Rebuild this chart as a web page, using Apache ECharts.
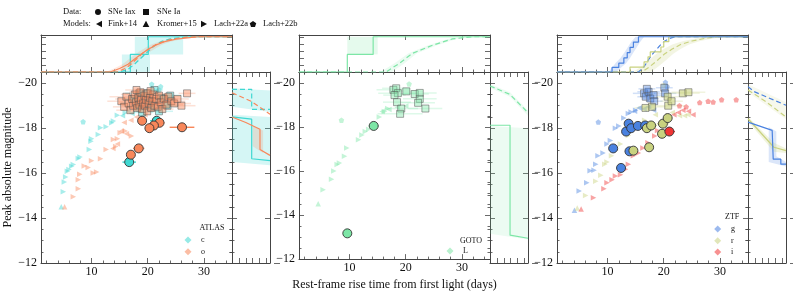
<!DOCTYPE html>
<html><head><meta charset="utf-8">
<script src="https://cdn.jsdelivr.net/npm/echarts@6/dist/echarts.min.js"></script>
<style>html,body{margin:0;padding:0;background:#fff}#c{width:793px;height:296px}</style>
</head><body><div id="c"></div>
<script>
// ---------------- DATA ----------------
const xMajor = [10, 20, 30];
const xMinor = [2, 4, 6, 8, 12, 14, 16, 18, 22, 24, 26, 28, 32, 34];
const yMajor = [-20, -18, -16, -14, -12];
const yMinor = [-19.5, -19, -18.5, -17.5, -17, -16.5, -15.5, -15, -14.5, -13.5, -13, -12.5];
const fracTicks = [0.2, 0.4, 0.6, 0.8, 1.0];

// ATLAS  [rise time, peak mag, x error]
const atlasIaxC = [[21.6,-18.33,1.2],[16.7,-16.49,1.2]];
const atlasIaxO = [[19.0,-18.33,0.6],[22.1,-18.24,0.9],[21.1,-18.12,1.5],[20.3,-18.0,0.8],[26.1,-18.04,2.2],[18.4,-17.1,1.0],[17.0,-16.82,0.5]];
const atlasIaC = [[17.5,-19.3,2],[18.5,-19.55,2.5],[19.0,-18.7,2],[19.8,-19.55,2],[20.5,-18.95,2.5],[21.2,-19.7,1.5],[22.0,-18.75,2.5],[22.4,-19.35,2],[23.5,-19.0,2],[24.0,-19.45,2],[20.0,-19.2,2],[18.2,-19.0,2]];
const atlasIaO = [[15.3,-19.2,2.5],[15.8,-18.95,2],[16.2,-19.4,3],[16.6,-19.1,2],[16.9,-18.8,2.5],[17.2,-19.3,3],[17.4,-19.0,2],[17.7,-19.5,2.5],[17.9,-19.15,3],[18.1,-18.9,2],[18.3,-19.35,2.5],[18.5,-19.05,3.5],[18.7,-19.6,2],[18.8,-19.25,2.5],[19.0,-18.85,2],[19.2,-19.1,3],[19.4,-19.45,2.5],[19.5,-19.0,2],[19.7,-19.25,3],[19.9,-18.75,2],[20.0,-19.55,2.5],[20.2,-19.1,3],[20.4,-19.35,2],[20.6,-18.9,2.5],[20.8,-19.2,3],[21.0,-19.5,2],[21.2,-19.0,2.5],[21.5,-19.3,3],[21.8,-18.95,2],[22.0,-19.45,2.5],[22.3,-19.15,3],[22.6,-18.85,2],[22.9,-19.3,2.5],[23.3,-19.05,3],[23.7,-19.4,2],[24.2,-19.2,2.5],[24.7,-19.1,3],[25.3,-19.3,2],[26.0,-19.0,2.5],[27.0,-19.55,1.5],[18.0,-19.7,2],[20.5,-19.65,2]];
const atlasFinkC = [[15.5,-18.55],[16.5,-18.75],[17.2,-18.65],[18.0,-18.8],[19.5,-18.9],[20.8,-18.9]];
const atlasFinkO = [[13.8,-17.1],[14.6,-17.3],[15.3,-17.87],[16.2,-17.75],[15.8,-18.25],[17.0,-18.35],[18.0,-18.5],[19.5,-18.6]];
const atlasKromerC = [[4.6,-14.5]];
const atlasKromerO = [[5.2,-14.5]];
const atlasLachAC = [[4.97,-15.17],[5.15,-15.61],[5.39,-15.83],[5.69,-16.08],[5.98,-16.16],[6.46,-16.31],[6.75,-16.38],[7.64,-16.65],[7.94,-16.72],[9.6,-17.05],[9.9,-17.42],[10.0,-17.53],[11.2,-17.72],[11.6,-18.02],[12.6,-18.06],[13.6,-18.24],[13.9,-18.32],[14.6,-18.57],[16.0,-18.69]];
const atlasLachAO = [[6.75,-14.95],[7.64,-15.3],[7.64,-15.7],[7.9,-15.95],[8.7,-16.32],[9.4,-16.25],[10.0,-16.55],[10.3,-16.0],[10.9,-16.05],[11.6,-16.64],[12.6,-17.05],[13.9,-17.5],[14.6,-17.53],[15.1,-17.8],[14.3,-17.19],[17.1,-17.65],[16.0,-17.87]];
const atlasLachBC = [[8.5,-18.29],[20.7,-19.96],[22.3,-19.85],[22.0,-19.7]];
const atlasLachBO = [[19.5,-19.5],[21.0,-19.3],[23.0,-19.45]];
// ATLAS marginals: top [rise time, fraction], right [fraction, mag]
const atlasTopIaxC = [[1,0],[16.9,0],[16.9,0.5],[20.1,0.5],[20.1,1],[35,1]];
const atlasTopIaC = [[1,0],[15,0],[16.5,0.08],[17.5,0.2],[18.5,0.35],[19.5,0.5],[20.5,0.65],[21.5,0.78],[22.5,0.87],[24,0.94],[26,0.98],[28,1],[35,1]];
const atlasTopIaxO = [[1,0],[13.3,0],[15,0.1],[16.5,0.22],[17.5,0.35],[18.5,0.47],[19.5,0.58],[20.5,0.68],[21.5,0.77],[23,0.86],[25,0.93],[27,0.97],[29,1],[35,1]];
const atlasTopIaO = [[1,0],[14.5,0],[16,0.1],[17,0.22],[18,0.37],[19,0.52],[20,0.64],[21,0.74],[22,0.82],[23.5,0.9],[25,0.95],[27,0.99],[29,1],[35,1]];
const atlasTopBandC = [[15.4,0],[15.4,0.5],[17.7,0.5],[17.7,1],[26.3,1],[26.3,0.5],[20.4,0.5],[20.4,0]];
const atlasTopBandO = [[12.5,0],[14,0.1],[15.5,0.22],[16.5,0.35],[17.5,0.47],[18.5,0.58],[19.5,0.68],[20.5,0.77],[22,0.86],[24,0.93],[26,0.97],[28,1],[30,1],[28,0.97],[26,0.93],[24,0.86],[22.5,0.77],[21.5,0.68],[20.5,0.58],[19.5,0.47],[18.5,0.35],[17.5,0.22],[16,0.1],[14.5,0]];
const atlasRightIaC = [[0,-19.73],[0.57,-19.73],[0.57,-18.84],[1.1,-18.84]];
const atlasRightIaO = [[0,-19.58],[0.55,-19.2],[1.1,-18.62]];
const atlasRightIaxC = [[0,-18.5],[0.57,-18.4],[0.57,-16.64],[1.1,-16.56]];
const atlasRightIaxO = [[0,-18.5],[0.4,-18.25],[0.81,-17.95],[0.81,-17.05],[1.1,-16.79]];
const atlasRightBandC1 = [[0,-19.78],[1.1,-19.68],[1.1,-18.72],[0,-18.95]];
const atlasRightBandC2 = [[0,-18.6],[1.1,-18.5],[1.1,-16.35],[0,-16.5]];
const atlasRightBandO = [[0.6,-18.1],[0.9,-17.9],[0.9,-16.9],[0.6,-17.2]];

// GOTO
const gotoIax = [[14.3,-18.05,0.9],[9.6,-13.17,0.3]];
const gotoIa = [[17.8,-19.69,3.0],[18.3,-19.76,2.5],[18.6,-19.54,3.5],[18.0,-19.45,2.0],[18.45,-19.13,2.5],[19.2,-18.84,3.0],[19.0,-18.6,4.0],[20.1,-19.62,3.0],[21.6,-19.5,2.5],[22.5,-19.55,3.0],[22.5,-19.28,3.0],[22.2,-19.1,3.0],[23.5,-18.84,3.0]];
const gotoFink = [[15.8,-18.7],[17.0,-18.8],[18.5,-18.9],[20.0,-18.95]];
const gotoKromer = [[4.42,-14.51]];
const gotoLachA = [[5.3,-15.15],[6.8,-15.63],[7.2,-16.0],[7.8,-16.3],[8.2,-16.37],[9.1,-16.67],[9.5,-17.05],[11.6,-17.42],[12.2,-17.64],[12.8,-17.8],[13.4,-17.9],[15.3,-18.46],[16.2,-18.7],[16.8,-18.84]];
const gotoLachB = [[8.55,-18.31],[20.6,-19.96]];
const gotoTopIax = [[1,0],[9.6,0],[9.6,0.5],[14.2,0.5],[14.2,1],[35,1]];
const gotoTopIa = [[1,0],[16.5,0],[18.9,0.25],[21.2,0.53],[24.8,0.76],[28.3,0.94],[31.8,1],[35,1]];
const gotoTopBand = [[9.6,0.5],[9.6,1],[15.0,1],[15.0,0.5]];
const gotoTopBand2 = [[15.5,0],[18,0.25],[20.5,0.53],[24,0.76],[27.5,0.94],[31,1],[33,1],[29,0.94],[25.6,0.76],[22,0.53],[19.8,0.25],[17.5,0]];
const gotoRightIax = [[0,-18.13],[0.58,-18.13],[0.58,-13.24],[1.1,-13.1]];
const gotoRightIa = [[0,-19.88],[0.58,-19.5],[1.1,-18.69]];
const gotoRightBand = [[0,-18.1],[1.1,-18.0],[1.1,-13.05],[0,-13.3]];
const gotoRightBand2 = [[0,-19.95],[0.58,-19.6],[1.1,-18.8],[1.1,-18.55],[0.58,-19.4],[0,-19.8]];

// ZTF
const ztfIaxG = [[11.0,-17.1,0.3],[12.4,-16.23,0.8],[13.3,-17.85,0.6],[13.75,-18.2,0.5],[13.9,-16.97,0.4],[14.2,-18.0,0.5],[15.4,-18.1,1.5],[16.7,-18.12,1.0]];
const ztfIaxR = [[14.6,-17.0,0.4],[17.0,-18.0,1.5],[17.75,-18.12,1.0],[17.4,-17.15,0.6],[19.85,-18.2,1.0],[19.7,-17.75,0.8],[20.7,-18.45,0.8]];
const ztfIaxI = [[21.0,-17.85,1.0]];
const ztfIaG = [[16.5,-19.55,2.0],[16.8,-19.4,1.5],[17.3,-19.62,2.0],[17.6,-19.32,1.5],[18.2,-19.47,2.0],[18.3,-19.2,1.5],[20.1,-19.8,1.5],[20.25,-19.55,2.0],[17.0,-19.75,1.5]];
const ztfIaR = [[17.9,-18.95,2.5],[20.7,-19.4,2.0],[20.8,-19.0,3.0],[21.4,-19.2,2.0],[23.4,-19.55,3.0],[24.4,-19.6,3.0],[16.75,-18.9,2.0]];
const ztfFinkG = [[14.8,-18.75],[15.6,-18.9],[16.5,-18.85],[17.3,-18.95],[18.2,-18.8]];
const ztfFinkR = [[18.5,-18.6],[21.5,-18.7],[22.8,-18.55],[23.7,-18.55],[24.3,-18.6]];
const ztfFinkI = [[21.8,-18.6],[22.6,-18.7],[23.4,-18.8],[24.4,-18.75],[25.2,-18.6]];
const ztfKromerG = [[4.1,-14.35]];
const ztfKromerR = [[4.6,-14.45]];
const ztfKromerI = [[5.3,-14.4]];
const ztfLachAG = [[4.95,-15.2],[6.3,-15.57],[6.9,-16.1],[7.6,-16.13],[7.9,-16.4],[8.3,-16.77],[9.2,-16.9],[9.9,-17.3],[10.5,-17.45],[11.4,-18.0],[12.0,-18.1],[12.9,-18.45],[13.7,-18.65],[14.2,-18.72],[15.0,-18.8]];
const ztfLachAR = [[6.1,-15.0],[7.9,-15.64],[8.8,-15.9],[9.5,-16.4],[9.9,-16.5],[10.7,-16.77],[11.5,-17.03],[12.3,-17.3],[13.7,-17.67],[14.9,-17.98],[15.8,-18.2],[16.6,-18.35]];
const ztfLachAI = [[7.5,-14.9],[9.35,-15.3],[9.9,-15.57],[10.8,-15.7],[11.4,-15.87],[12.3,-15.93],[13.2,-16.17],[13.7,-16.4],[14.6,-16.77],[15.5,-16.9],[16.3,-17.12],[17.2,-17.35],[18.4,-17.65],[18.9,-17.9]];
const ztfLachBG = [[8.35,-18.27],[20.3,-20.04],[20.6,-19.85]];
const ztfLachBR = [[20.0,-19.9],[21.0,-19.3]];
const ztfLachBI = [[26.4,-19.14],[27.9,-19.2],[28.8,-19.16],[30.3,-19.27],[32.9,-19.27],[22.8,-19.0],[24.0,-18.95]];
const ztfTopIaxG = [[1,0],[10.8,0],[10.8,0.13],[12.0,0.13],[12.0,0.25],[12.9,0.25],[12.9,0.4],[13.5,0.4],[13.5,0.55],[14.0,0.55],[14.0,0.7],[14.6,0.7],[14.6,0.85],[15.5,0.85],[15.5,1],[35,1]];
const ztfTopIaxR = [[1,0],[14.0,0],[14.0,0.14],[16.5,0.14],[16.5,0.29],[17.2,0.29],[17.2,0.43],[17.6,0.43],[17.6,0.57],[19.5,0.57],[19.5,0.71],[20.0,0.71],[20.0,0.86],[20.9,0.86],[20.9,1],[35,1]];
const ztfTopIaG = [[1,0],[15.5,0],[16.5,0.15],[17.3,0.35],[17.85,0.48],[18.5,0.6],[19.3,0.75],[20.2,0.88],[21.2,0.96],[22,1],[35,1]];
const ztfTopIaR = [[1,0],[16.1,0],[17.5,0.15],[19,0.35],[20.2,0.52],[21.5,0.65],[23,0.78],[25,0.88],[27.5,0.96],[29.6,1],[35,1]];
const ztfTopBandG = [[10.2,0],[11.4,0.25],[12.3,0.4],[13.0,0.55],[13.6,0.7],[14.2,0.85],[15.0,1],[16.5,1],[15.8,0.85],[15.2,0.7],[14.6,0.55],[14.0,0.4],[13.3,0.25],[11.5,0]];
const ztfTopBandR = [[14.5,0],[16,0.15],[17.5,0.35],[18.7,0.52],[20,0.65],[21.5,0.78],[23.5,0.88],[26,0.96],[28,1],[31,1],[29,0.96],[26.5,0.88],[24.5,0.78],[23,0.65],[21.7,0.52],[20.5,0.35],[19,0.15],[17.7,0]];
const ztfRightIaG = [[0,-19.85],[0.17,-19.63],[1.1,-19.02]];
const ztfRightIaR = [[0,-19.7],[0.5,-19.2],[1.1,-18.5]];
const ztfRightIaxG = [[0,-18.27],[0.7,-17.9],[0.73,-17.9],[0.73,-16.62],[0.95,-16.62],[0.95,-16.4],[1.1,-16.4]];
const ztfRightIaxR = [[0,-18.42],[0.75,-17.15],[1.1,-17.0]];
const ztfRightBandG = [[0.6,-18.05],[0.82,-17.85],[0.82,-16.75],[1.1,-16.5],[1.1,-16.3],[0.6,-16.5]];
const ztfRightBandR = [[0,-18.5],[0.75,-17.35],[1.1,-17.1],[1.1,-16.9],[0.75,-16.95],[0,-18.3]];
const ztfRightBandIa = [[0,-19.95],[1.1,-19.15],[1.1,-18.4],[0,-19.6]];

// ---------------- STYLE / LAYOUT ----------------
const FONT = "'Liberation Serif','DejaVu Serif',serif";
const AX = '#444';
const COL = {c:'#3fd8d2', o:'#f8875a', L:'#7de6a6', g:'#4a82e0', r:'#c9d27f', i:'#f03535'};
const SYM = {
  circle:'circle', square:'rect', up:'triangle',
  left:'path://M2,0 L0,1 L2,2 Z', right:'path://M0,0 L2,1 L0,2 Z',
  pent:'path://M1,0 L1.951,0.691 L1.588,1.809 L0.412,1.809 L0.049,0.691 Z'
};
function rgba(hex, a){ const n=parseInt(hex.slice(1),16); return `rgba(${n>>16},${(n>>8)&255},${n&255},${a})`; }

const LEFTS=[41,299,557], MW=191, MT=72, MH=191, TT=35, TH=37, RW=38;
const grids=[], xAxes=[], yAxes=[], series=[];
const XR=[1,35], YR=[-20.5,-12], FR_T=[0,1.05], FR_R=[0,1.1];

function makeGrid(o){
  const gi = grids.length;
  grids.push({left:o.left, top:o.top, width:o.w, height:o.h, containLabel:false});
  const base = {gridIndex:gi, type:'value', splitLine:{show:false}, axisPointer:{show:false}};
  const lineOn = {show:true, onZero:false, lineStyle:{color:AX, width:1}};
  const tick = (vals,len,inside)=>({show:true, inside:inside!==false, length:len, customValues:vals, lineStyle:{color:AX,width:0.8}});
  const xi = xAxes.length;
  ['bottom','top'].forEach(pos=>{
    const ax = {...base, min:o.xr[0], max:o.xr[1], position:pos, axisLine:lineOn, axisTick:tick(o.xMaj,5),
      axisLabel:(pos==='bottom'&&o.xLab)?{show:true, customValues:o.xMaj, fontFamily:FONT, fontSize:12, color:'#111', margin:3}:{show:false}};
    if (pos==='bottom' && o.xName) Object.assign(ax,{name:o.xName, nameLocation:'middle', nameGap:15, nameTextStyle:{fontFamily:FONT, fontSize:12, color:'#111'}});
    xAxes.push(ax);
    if (o.xMin) xAxes.push({...base, min:o.xr[0], max:o.xr[1], position:pos, axisLine:{show:false}, axisTick:tick(o.xMin,2.5), axisLabel:{show:false}});
  });
  const yi = yAxes.length;
  ['left','right'].forEach(pos=>{
    const ay = {...base, min:o.yr[0], max:o.yr[1], inverse:!!o.inv, position:pos, axisLine:lineOn, axisTick:tick(o.yMaj,5),
      axisLabel:(pos==='left'&&o.yLab)?{show:true, customValues:o.yMaj, fontFamily:FONT, fontSize:12, color:'#111', margin:4,
        formatter:v=>(v<0?'\u2212':'')+Math.abs(v)}:{show:false}};
    if (pos==='left' && o.yName) Object.assign(ay,{name:o.yName, nameLocation:'middle', nameGap:22, nameTextStyle:{fontFamily:FONT, fontSize:12, color:'#111'}});
    yAxes.push(ay);
    if (o.yMin) yAxes.push({...base, min:o.yr[0], max:o.yr[1], inverse:!!o.inv, position:pos, axisLine:{show:false}, axisTick:tick(o.yMin,2.5), axisLabel:{show:false}});
  });
  if (o.extra) yAxes.push({...base, min:o.yr[0], max:o.yr[1], inverse:!!o.inv, position:'right', offset:4, axisLine:{show:false}, axisTick:tick(o.yMaj,6,false), axisLabel:{show:false}});
  return {xi, yi};
}

function sc(ax, data, sym, size, color, o={}){
  series.push({type:'scatter', xAxisIndex:ax.xi, yAxisIndex:ax.yi, data:data.map(d=>[d[0],d[1]]), symbol:sym, symbolSize:size,
    z:o.z||3, silent:true, animation:false,
    itemStyle:{color, borderColor:o.bc||'rgba(0,0,0,0)', borderWidth:o.bw||0, opacity:o.op==null?1:o.op}});
}
function eb(ax, data, color, width, z){
  series.push({type:'custom', xAxisIndex:ax.xi, yAxisIndex:ax.yi, clip:true, silent:true, animation:false, z:z||2,
    data:data.map(d=>[d[0]-d[2], d[0]+d[2], d[1]]), encode:{x:[0,1], y:2},
    renderItem:(p,api)=>{const a=api.coord([api.value(0),api.value(2)]), b=api.coord([api.value(1),api.value(2)]);
      return {type:'line', shape:{x1:a[0],y1:a[1],x2:b[0],y2:b[1]}, style:{stroke:color, lineWidth:width}};}});
}
function ln(ax, data, color, dashed, width){
  series.push({type:'line', xAxisIndex:ax.xi, yAxisIndex:ax.yi, data, symbol:'none', showSymbol:false, clip:true,
    lineStyle:{color, width:width||1.2, type:dashed?[5,3]:'solid'}, z:2, silent:true, animation:false});
}
function band(ax, poly, color){
  series.push({type:'custom', xAxisIndex:ax.xi, yAxisIndex:ax.yi, clip:true, silent:true, animation:false, z:1,
    data:[poly[0]], renderItem:(p,api)=>({type:'polygon', shape:{points:poly.map(q=>api.coord(q))}, style:{fill:color}})});
}

const panels = LEFTS.map((L,i)=>({
  main: makeGrid({left:L, top:MT, w:MW, h:MH, xr:XR, yr:YR, inv:true, xMaj:xMajor, xMin:xMinor, yMaj:yMajor, yMin:yMinor, xLab:true, yLab:true,
        yName: i===0?'Peak absolute magnitude':null, xName: i===1?'Rest-frame rise time from first light (days)':null}),
  top: makeGrid({left:L, top:TT, w:MW, h:TH, xr:XR, yr:FR_T, xMaj:xMajor, xMin:xMinor, yMaj:fracTicks}),
  right: makeGrid({left:L+MW, top:MT, w:RW, h:MH, xr:FR_R, yr:YR, inv:true, xMaj:fracTicks, yMaj:yMajor, yMin:yMinor, extra:true})
}));

const MS = 5.5, MOP = 0.45;
function models(ax, col, fink, kromer, lachA, lachB){
  sc(ax, lachA, SYM.right, MS, col, {op:MOP});
  sc(ax, fink, SYM.left, MS, col, {op:MOP});
  sc(ax, kromer, SYM.up, MS, col, {op:MOP});
  sc(ax, lachB, SYM.pent, MS, col, {op:MOP});
}
function ia(ax, col, data, fillA){
  eb(ax, data, rgba(col,0.25), 1.5, 2);
  sc(ax, data, SYM.square, 7, rgba(col,fillA||0.45), {bc:'rgba(85,85,85,0.65)', bw:0.8, z:4});
}
function iax(ax, col, data){
  eb(ax, data, col, 1.4, 5);
  sc(ax, data, SYM.circle, 9, col, {bc:'#333', bw:0.9, z:6});
}

// ---- ATLAS ----
{
  const P = panels[0];
  band(P.top, atlasTopBandC, rgba(COL.c,0.22));
  band(P.top, atlasTopBandO, rgba(COL.o,0.18));
  ln(P.top, atlasTopIaC, COL.c, true);
  ln(P.top, atlasTopIaxC, COL.c, false);
  ln(P.top, atlasTopIaO, COL.o, true);
  ln(P.top, atlasTopIaxO, COL.o, false);
  band(P.right, atlasRightBandC1, rgba(COL.c,0.22));
  band(P.right, atlasRightBandC2, rgba(COL.c,0.22));
  band(P.right, atlasRightBandO, rgba(COL.o,0.2));
  ln(P.right, atlasRightIaC, COL.c, true);
  ln(P.right, atlasRightIaO, COL.o, true);
  ln(P.right, atlasRightIaxC, COL.c, false);
  ln(P.right, atlasRightIaxO, COL.o, false);
  models(P.main, COL.c, atlasFinkC, atlasKromerC, atlasLachAC, atlasLachBC);
  models(P.main, COL.o, atlasFinkO, atlasKromerO, atlasLachAO, atlasLachBO);
  ia(P.main, COL.c, atlasIaC);
  ia(P.main, COL.o, atlasIaO);
  iax(P.main, COL.c, atlasIaxC);
  iax(P.main, COL.o, atlasIaxO);
}
// ---- GOTO ----
{
  const P = panels[1];
  band(P.top, gotoTopBand, rgba(COL.L,0.2));
  band(P.top, gotoTopBand2, rgba(COL.L,0.15));
  ln(P.top, gotoTopIa, COL.L, true);
  ln(P.top, gotoTopIax, COL.L, false);
  band(P.right, gotoRightBand, rgba(COL.L,0.15));
  band(P.right, gotoRightBand2, rgba(COL.L,0.15));
  ln(P.right, gotoRightIa, COL.L, true);
  ln(P.right, gotoRightIax, COL.L, false);
  models(P.main, COL.L, gotoFink, gotoKromer, gotoLachA, gotoLachB);
  ia(P.main, COL.L, gotoIa, 0.4);
  iax(P.main, COL.L, gotoIax);
}
// ---- ZTF ----
{
  const P = panels[2];
  band(P.top, ztfTopBandG, rgba(COL.g,0.2));
  band(P.top, ztfTopBandR, rgba(COL.r,0.22));
  ln(P.top, ztfTopIaR, COL.r, true);
  ln(P.top, ztfTopIaG, COL.g, true);
  ln(P.top, ztfTopIaxR, COL.r, false);
  ln(P.top, ztfTopIaxG, COL.g, false);
  band(P.right, ztfRightBandIa, rgba(COL.r,0.15));
  band(P.right, ztfRightBandG, rgba(COL.g,0.2));
  band(P.right, ztfRightBandR, rgba(COL.r,0.25));
  ln(P.right, ztfRightIaR, COL.r, true);
  ln(P.right, ztfRightIaG, COL.g, true);
  ln(P.right, ztfRightIaxR, COL.r, false);
  ln(P.right, ztfRightIaxG, COL.g, false);
  models(P.main, COL.g, ztfFinkG, ztfKromerG, ztfLachAG, ztfLachBG);
  models(P.main, COL.r, ztfFinkR, ztfKromerR, ztfLachAR, ztfLachBR);
  models(P.main, COL.i, ztfFinkI, ztfKromerI, ztfLachAI, ztfLachBI);
  ia(P.main, COL.g, ztfIaG, 0.4);
  ia(P.main, COL.r, ztfIaR, 0.6);
  iax(P.main, COL.g, ztfIaxG);
  iax(P.main, COL.r, ztfIaxR);
  iax(P.main, COL.i, ztfIaxI);
}

// ---------------- LEGENDS (graphic) ----------------
const gfx = [];
function txt(x,y,s,size){ gfx.push({type:'text', x, y, silent:true, z:10, style:{text:s, font:`${size}px ${FONT}`, fill:'#111', align:'left', verticalAlign:'middle'}}); }
function polyG(pts, fill){ gfx.push({type:'polygon', silent:true, z:10, shape:{points:pts}, style:{fill}}); }
function diamond(x,y,col){ polyG([[x,y-3.5],[x+3.5,y],[x,y+3.5],[x-3.5,y]], rgba(col,0.55)); }
const LF = 8.5;
txt(63,12,'Data:',LF);
gfx.push({type:'circle', silent:true, z:10, shape:{cx:98, cy:12, r:3}, style:{fill:'#111'}});
txt(108,12,'SNe Iax',LF);
gfx.push({type:'rect', silent:true, z:10, shape:{x:143, y:9, width:6, height:6}, style:{fill:'#111'}});
txt(157,12,'SNe Ia',LF);
txt(63,24,'Models:',LF);
polyG([[96,24],[102,20.8],[102,27.2]],'#111'); txt(108,24,'Fink+14',LF);
polyG([[146,20.8],[149.3,27],[142.7,27]],'#111'); txt(157,24,'Kromer+15',LF);
polyG([[207,24],[201,20.8],[201,27.2]],'#111'); txt(214,24,'Lach+22a',LF);
{
  const cx=253, cy=24.3, r=3.4, pts=[];
  for (let k=0;k<5;k++){ const a=-Math.PI/2+k*2*Math.PI/5; pts.push([cx+r*Math.cos(a), cy+r*Math.sin(a)]); }
  polyG(pts,'#111'); txt(263,24,'Lach+22b',LF);
}
// inner legends
txt(199.5,228,'ATLAS',8); diamond(188,240,COL.c); txt(201,240,'c',8); diamond(188,251.7,COL.o); txt(201,251.7,'o',8);
txt(460,240.7,'GOTO',8); diamond(450,251,COL.L); txt(463,251,'L',8);
txt(725,217,'ZTF',8); diamond(717.7,229,COL.g); txt(731,229,'g',8); diamond(717.7,240.7,COL.r); txt(731,240.7,'r',8); diamond(717.7,252,COL.i); txt(731,252,'i',8);

const chart = echarts.init(document.getElementById('c'), null, {renderer:'canvas', width:793, height:296});
chart.setOption({animation:false, backgroundColor:'#fff', grid:grids, xAxis:xAxes, yAxis:yAxes, series, graphic:gfx});
</script></body></html>
